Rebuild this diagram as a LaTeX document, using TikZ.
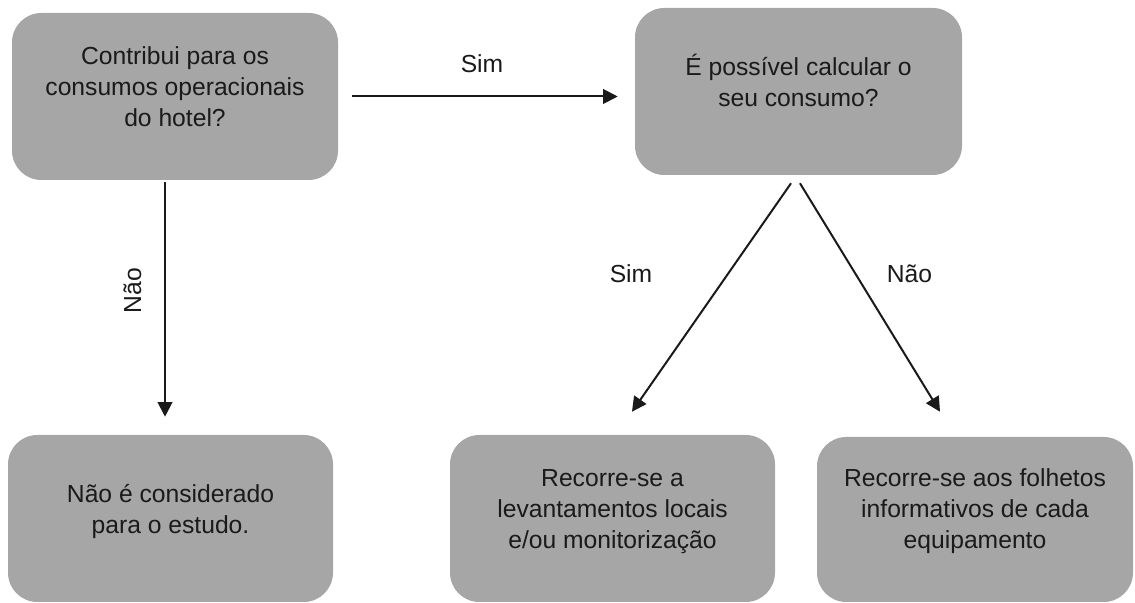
\documentclass[tikz,border=0pt]{standalone}
\usepackage{fontspec}
\setmainfont{Liberation Sans}
\usetikzlibrary{arrows.meta}
\definecolor{boxgray}{HTML}{A6A6A6}
\definecolor{ink}{HTML}{1A1A1A}
\begin{document}
\begin{tikzpicture}[x=0.75pt, y=0.75pt,
    box/.style={fill=boxgray, rounded corners=22pt, inner sep=0pt},
    txt/.style={align=center, inner sep=0pt, text=ink, font=\fontsize{18.5pt}{23.25pt}\selectfont},
    lbl/.style={inner sep=0pt, text=ink, font=\fontsize{18.5pt}{23.25pt}\selectfont},
    arr/.style={-{Triangle[length=11pt,width=11pt]}, line width=1.5pt, draw=ink}]
  \useasboundingbox (0,0) rectangle (1135,603);
  % boxes
  \node[box, minimum width=244.5pt, minimum height=125.25pt] (A) at (175,506.5) {};
  \node[box, minimum width=245.25pt, minimum height=125.25pt] (B) at (798.5,511.5) {};
  \node[box, minimum width=243.75pt, minimum height=125.25pt] (C) at (170.5,84.5) {};
  \node[box, minimum width=243.75pt, minimum height=125.25pt] (D) at (612.5,84.5) {};
  \node[box, minimum width=237pt, minimum height=123.75pt] (E) at (975,83.5) {};
  % texts
  \node[txt] (tA) at (175,516) {Contribui para os\\consumos operacionais\\do hotel?};
  \node[txt] (tB) at (798.5,522.5) {É possível calcular o\\seu consumo?};
  \node[txt] (tC) at (170.5,92) {Não é considerado\\para o estudo.};
  \node[txt] (tD) at (612.5,91.5) {Recorre-se a\\levantamentos locais\\e/ou monitorização};
  \node[txt] (tE) at (975,91.5) {Recorre-se aos folhetos\\informativos de cada\\equipamento};
  % connectors
  \draw[arr, shorten <=10.5pt, shorten >=12.75pt] (A.east) -- (A.east -| B.west);
  \draw[arr, shorten <=1.5pt, shorten >=13.5pt] ([xshift=-7.5pt]A.south) -- ([xshift=-7.5pt]A.south |- C.north);
  \draw[arr] ([xshift=-5.6pt,yshift=-6pt]B.south) -- ([xshift=14.6pt,yshift=17.25pt]D.north);
  \draw[arr] ([xshift=1.1pt,yshift=-6pt]B.south) -- ([xshift=-26.25pt,yshift=18.75pt]E.north);
  % labels
  \node[lbl] (simAB) at (482,539) {Sim};
  \node[lbl, rotate=90] (naoAC) at (132.5,312.5) {Não};
  \node[lbl] (simBD) at (631,329) {Sim};
  \node[lbl] (naoBE) at (909.5,329) {Não};
\end{tikzpicture}
\end{document}
